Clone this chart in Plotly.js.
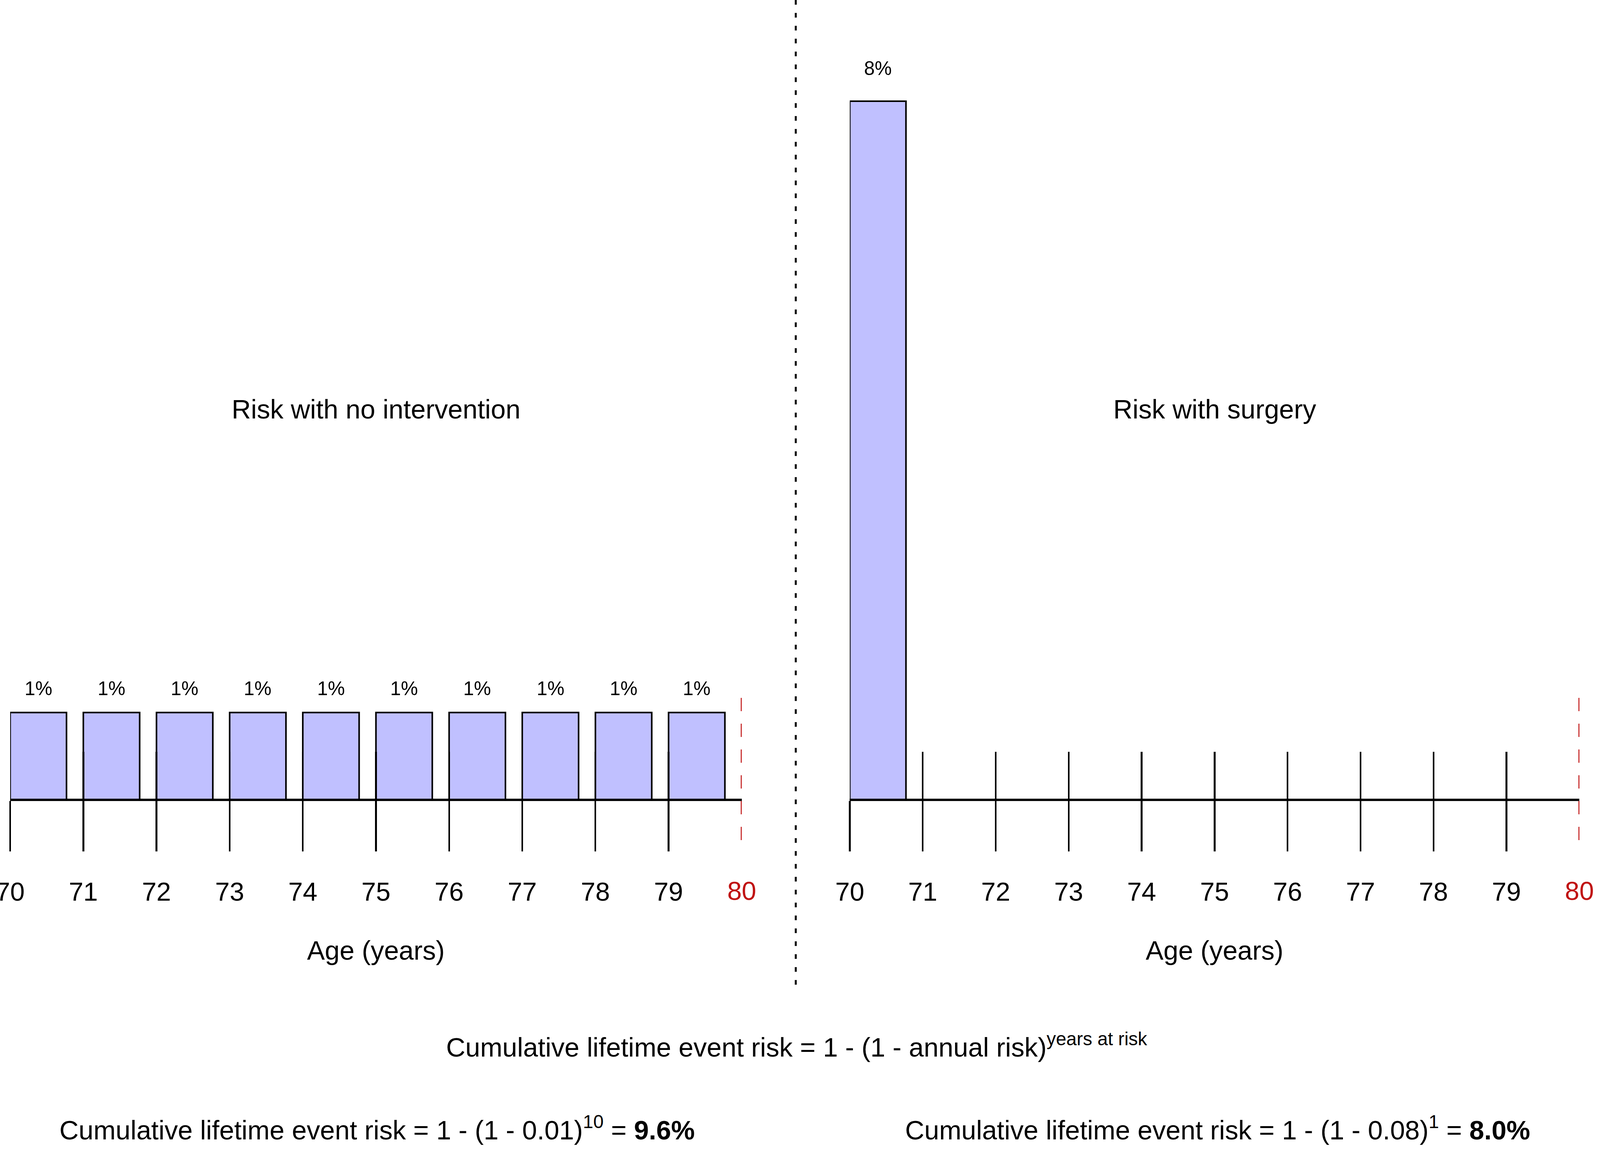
<!DOCTYPE html>
<html>
<head>
<meta charset="utf-8">
<script src="https://cdn.plot.ly/plotly-3.0.1.min.js"></script>
<style>html,body{margin:0;padding:0;background:#fff;overflow:hidden;}</style>
</head>
<body>
<div id="chart"></div>
<script>
// ---- data ----
const ages = [70, 71, 72, 73, 74, 75, 76, 77, 78, 79];
const endAge = 80;
const riskNoIntervention = [1, 1, 1, 1, 1, 1, 1, 1, 1, 1];   // annual risk, %
const surgeryAges = [70];
const riskSurgery = [8];                                    // risk, %
const panelTitles = ['Risk with no intervention', 'Risk with surgery'];
const axisTitle = 'Age (years)';
const yearsNoIntervention = 10;
const yearsSurgery = 1;
const annualNoIntervention = 0.01;
const annualSurgery = 0.08;

// ---- style: sizes are given in reference pixels (6603 x 2961) and scaled to the window ----
const RW = 6603, RH = 2961;
const W = window.innerWidth || RW, H = window.innerHeight || RH;
const kx = W / RW, ky = H / RH;
const kf = Math.min(1.1 * kx, ky);   // font scale
const SX = v => v * kx, SY = v => v * ky, SF = v => v * kf;
const el = document.getElementById('chart');
el.style.width = W + 'px';
el.style.height = H + 'px';

const FONT = 'Liberation Sans, Arial, Helvetica, sans-serif';
const RED = '#c01212';
const BAR_FILL = '#c0c0ff';
const BAR_W = 0.77;
const AXIS_PX = 2047, UNIT_PX = 223.5;
const axisY = 1 - AXIS_PX / RH;
const leftDom = [42 / RW, 3061 / RW];
const rightDom = [3507 / RW, 6518 / RW];
const yRange = [-(RH - AXIS_PX) / UNIT_PX, AXIS_PX / UNIT_PX];

function mainAxis(dom) {
  return {
    domain: dom, range: [ages[0], endAge], anchor: 'free', position: axisY,
    tickmode: 'array', tickvals: ages, ticktext: ages.map(String),
    ticks: 'outside', ticklen: SY(129), tickwidth: SX(7), tickcolor: '#000',
    showline: true, linewidth: SY(6), linecolor: '#000',
    showgrid: false, zeroline: false, fixedrange: true, ticklabeloverflow: 'allow',
    tickfont: {family: FONT, size: SF(98), color: '#000'}, ticklabelstandoff: SY(46)
  };
}
function innerTicks(dom, overlay) {
  return {
    domain: dom, range: [ages[0], endAge], anchor: 'free', position: axisY, overlaying: overlay,
    tickmode: 'array', tickvals: ages, ticks: 'inside', ticklen: SY(123), tickwidth: SX(7), tickcolor: '#000',
    showticklabels: false, showline: false, showgrid: false, zeroline: false, fixedrange: true
  };
}
function endLabel(dom, overlay) {
  return {
    domain: dom, range: [ages[0], endAge], anchor: 'free', position: axisY, overlaying: overlay,
    tickmode: 'array', tickvals: [endAge], ticktext: [String(endAge)],
    ticks: 'outside', ticklen: SY(129), tickwidth: 1, tickcolor: 'rgba(0,0,0,0)',
    showline: false, showgrid: false, zeroline: false, fixedrange: true, ticklabeloverflow: 'allow',
    tickfont: {family: FONT, size: SF(98), color: RED}, ticklabelstandoff: SY(46)
  };
}

const barStyle = {
  type: 'bar', offset: 0, width: BAR_W, cliponaxis: false, hoverinfo: 'skip',
  marker: {color: BAR_FILL, line: {color: '#000', width: (SX(5) + SY(5)) / 2}}
};

const traces = [
  Object.assign({x: ages, y: riskNoIntervention, xaxis: 'x', yaxis: 'y'}, barStyle),
  Object.assign({x: surgeryAges, y: riskSurgery, xaxis: 'x4', yaxis: 'y'}, barStyle)
];
// empty traces so that the overlaying tick/label axes get a subplot and are drawn
['x2', 'x3', 'x5', 'x6'].forEach(ax => traces.push({type: 'scatter', x: [], y: [], xaxis: ax, yaxis: 'y', hoverinfo: 'skip', showlegend: false}));

const annotations = [];
function barLabels(xs, ys, xref, shift) {
  xs.forEach((a, i) => annotations.push({
    xref: xref, yref: 'y', x: a + BAR_W / 2, y: ys[i], yanchor: 'middle', yshift: SY(shift),
    text: ys[i] + '%', showarrow: false, font: {family: FONT, size: SF(72), color: '#000'}
  }));
}
barLabels(ages, riskNoIntervention, 'x', 62);
barLabels(surgeryAges, riskSurgery, 'x4', 84);

const txt = (s, x, xref, ypx, size) => ({
  text: s, x: x, xref: xref, y: 1 - ypx / RH, yref: 'paper', xanchor: 'center', yanchor: 'middle',
  showarrow: false, font: {family: FONT, size: SF(size), color: '#000'}
});

annotations.push(txt(panelTitles[0], 0.5, 'x domain', 1047, 100));
annotations.push(txt(panelTitles[1], 0.5, 'x4 domain', 1047, 100));
annotations.push(txt(axisTitle, 0.5, 'x domain', 2432, 100));
annotations.push(txt(axisTitle, 0.5, 'x4 domain', 2432, 100));

const cumNo = (1 - Math.pow(1 - annualNoIntervention, yearsNoIntervention)) * 100;
const cumSurg = (1 - Math.pow(1 - annualSurgery, yearsSurgery)) * 100;
annotations.push(txt('Cumulative lifetime event risk = 1 - (1 - annual risk)<sup>years at risk</sup>',
  3287 / RW, 'paper', 2675, 100));
annotations.push(txt('Cumulative lifetime event risk = 1 - (1 - ' + annualNoIntervention.toFixed(2) + ')<sup>' +
  yearsNoIntervention + '</sup> = <b>' + cumNo.toFixed(1) + '%</b>', 1556 / RW, 'paper', 2887, 100));
annotations.push(txt('Cumulative lifetime event risk = 1 - (1 - ' + annualSurgery.toFixed(2) + ')<sup>' +
  yearsSurgery + '</sup> = <b>' + cumSurg.toFixed(1) + '%</b>', 5024 / RW, 'paper', 2887, 100));

const redTop = (AXIS_PX - 1786) / UNIT_PX, redBot = (AXIS_PX - 2154) / UNIT_PX;
const redDash = SY(34) + 'px,' + SY(32) + 'px';
const shapes = [
  {type: 'line', xref: 'paper', yref: 'paper', x0: 3284 / RW, x1: 3284 / RW, y0: 1, y1: 1 - 2535 / RH,
   line: {color: '#000', width: SX(8), dash: SY(12) + 'px,' + SY(21) + 'px'}},
  {type: 'line', xref: 'x', yref: 'y', x0: endAge, x1: endAge, y0: redTop, y1: redBot,
   line: {color: RED, width: SX(8), dash: redDash}},
  {type: 'line', xref: 'x4', yref: 'y', x0: endAge, x1: endAge, y0: redTop, y1: redBot,
   line: {color: RED, width: SX(8), dash: redDash}}
];

const layout = {
  width: W, height: H, margin: {l: 0, r: 0, t: 0, b: 0, pad: 0},
  paper_bgcolor: '#fff', plot_bgcolor: 'rgba(0,0,0,0)', showlegend: false,
  font: {family: FONT, color: '#000'},
  xaxis: mainAxis(leftDom),
  xaxis2: innerTicks(leftDom, 'x'),
  xaxis3: endLabel(leftDom, 'x'),
  xaxis4: mainAxis(rightDom),
  xaxis5: innerTicks(rightDom, 'x4'),
  xaxis6: endLabel(rightDom, 'x4'),
  yaxis: {domain: [0, 1], range: yRange, visible: false, fixedrange: true, anchor: 'x'},
  annotations: annotations, shapes: shapes, bargap: 0
};

Plotly.newPlot('chart', traces, layout, {staticPlot: true, displayModeBar: false});
</script>
</body>
</html>
